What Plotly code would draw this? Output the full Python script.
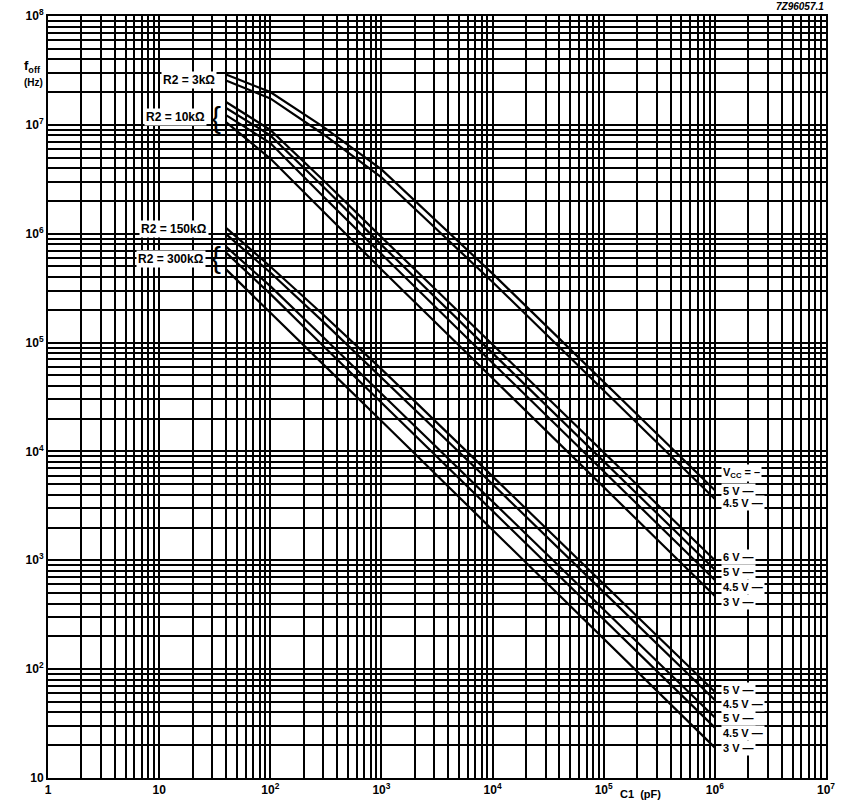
import plotly.graph_objects as go

# C1 in pF, f_off in Hz
c1 = [40, 100, 300, 1e3, 1e4, 1e5, 1e6]

# R2 = 3 kOhm
r3k_5v = [2.9e7, 2.0e7, 9.6e6, 3.9e6, 4.3e5, 4.35e4, 4.4e3]
r3k_45v = [2.55e7, 1.75e7, 8.2e6, 3.3e6, 3.6e5, 3.6e4, 3.65e3]

# R2 = 10 kOhm
r10k_6v = [1.62e7, 9.0e6, 3.1e6, 9.3e5, 9.6e4, 9.9e3, 1.0e3]
r10k_5v = [1.43e7, 8.0e6, 2.7e6, 7.9e5, 8.0e4, 8.1e3, 8.2e2]
r10k_45v = [1.23e7, 6.8e6, 2.2e6, 6.5e5, 6.5e4, 6.6e3, 6.6e2]
r10k_3v = [1.06e7, 4.9e6, 1.6e6, 4.7e5, 4.7e4, 4.7e3, 4.7e2]

# R2 = 150 kOhm
r150k_5v = [1.13e6, 5.0e5, 1.8e5, 5.7e4, 5.9e3, 6.1e2, 62]
r150k_45v = [9.9e5, 4.4e5, 1.55e5, 4.8e4, 5.0e3, 5.1e2, 52]

# R2 = 300 kOhm
r300k_5v = [7.6e5, 3.3e5, 1.12e5, 3.4e4, 3.5e3, 3.55e2, 36]
r300k_45v = [6.7e5, 2.8e5, 9.3e4, 2.8e4, 2.85e3, 2.9e2, 29]
r300k_3v = [4.7e5, 1.9e5, 6.3e4, 1.9e4, 1.9e3, 1.9e2, 19]

curves = [r3k_5v, r3k_45v, r10k_6v, r10k_5v, r10k_45v, r10k_3v,
          r150k_5v, r150k_45v, r300k_5v, r300k_45v, r300k_3v]

x_ticks = [1, 10, 1e2, 1e3, 1e4, 1e5, 1e6, 1e7]
x_text = ['1', '10', '10<sup>2</sup>', '10<sup>3</sup>', '10<sup>4</sup>',
          '10<sup>5</sup>', '10<sup>6</sup>', '10<sup>7</sup>']
y_ticks = [10, 1e2, 1e3, 1e4, 1e5, 1e6, 1e7, 1e8]
y_text = ['10', '10<sup>2</sup>', '10<sup>3</sup>', '10<sup>4</sup>', '10<sup>5</sup>',
          '10<sup>6</sup>', '10<sup>7</sup>', '10<sup>8</sup>']

FONT = 'Liberation Sans, Arial, sans-serif'

fig = go.Figure()
for ys in curves:
    fig.add_trace(go.Scatter(x=c1, y=ys, mode='lines',
                             line=dict(color='black', width=2.2),
                             showlegend=False, hoverinfo='skip'))

# label positions (log10 coords on the plot), from screen pixels
X0, XD = 48, 111.2
Y0, YD = 16, 108.9
def lx(px):
    return (px - X0) / XD
def ly(py):
    return 8 - (py - Y0) / YD

def label(px, py, text, anchor='center', size=12):
    fig.add_annotation(x=lx(px), y=ly(py), text='<b>' + text + '</b>', showarrow=False,
                       xanchor=anchor, yanchor='middle', bgcolor='white', borderpad=1,
                       font=dict(family=FONT, size=size, color='black'))

label(189, 80, 'R2 = 3kΩ')
label(176, 117, 'R2 = 10kΩ')
label(174, 229, 'R2 = 150kΩ')
label(171, 259, 'R2 = 300kΩ')
for py in (118, 258):
    fig.add_annotation(x=lx(216), y=ly(py), text='{', showarrow=False,
                       font=dict(family=FONT, size=30, color='black'))

right_labels = [(473, 'V<sub>CC</sub> = –'), (491, '5 V —'), (503, '4.5 V —'),
                (557, '6 V —'), (572, '5 V —'), (587, '4.5 V —'), (602, '3 V —'),
                (690, '5 V —'), (704, '4.5 V —'), (718, '5 V —'), (733, '4.5 V —'), (748, '3 V —')]
for py, t in right_labels:
    label(721, py, t, anchor='left', size=11)

fig.add_annotation(xref='paper', yref='paper', x=-0.033, y=0.948, text='<b>f<sub>off</sub></b>',
                   showarrow=False, font=dict(family=FONT, size=13, color='black'))
fig.add_annotation(xref='paper', yref='paper', x=-0.033, y=0.922, text='<b>(Hz)</b>',
                   showarrow=False, font=dict(family=FONT, size=10, color='black'))
fig.add_annotation(xref='paper', yref='paper', x=0.79, y=-0.032, text='<b>C1  (pF)</b>',
                   showarrow=False, font=dict(family=FONT, size=11, color='black'))
fig.add_annotation(xref='paper', yref='paper', x=1.0, y=1.002, xanchor='right', yanchor='bottom',
                   text='<b><i>7Z96057.1</i></b>', showarrow=False,
                   font=dict(family=FONT, size=10, color='black'))

axis_common = dict(type='log', showgrid=True, gridcolor='black', gridwidth=2,
                   showline=True, linecolor='black', linewidth=2, mirror=True,
                   ticks='', zeroline=False, automargin=False, ticklabeloverflow='allow',
                   minor=dict(dtick='D1', showgrid=True, gridcolor='black', gridwidth=1.6),
                   tickfont=dict(family=FONT, size=12, color='black', weight='bold'))

fig.update_xaxes(range=[0, 7], tickmode='array', tickvals=x_ticks, ticktext=x_text, **axis_common)
fig.update_yaxes(range=[1, 8], tickmode='array', tickvals=y_ticks, ticktext=y_text, **axis_common)

fig.update_layout(width=848, height=812, paper_bgcolor='white', plot_bgcolor='white',
                  margin=dict(l=48, r=22, t=16, b=34), showlegend=False)

# drop the default 8px page margin so the figure sits at the window corner
fig.write_html("out.html", config={'displayModeBar': False},
               post_script="document.body.style.margin='0';document.body.style.overflow='hidden';")
